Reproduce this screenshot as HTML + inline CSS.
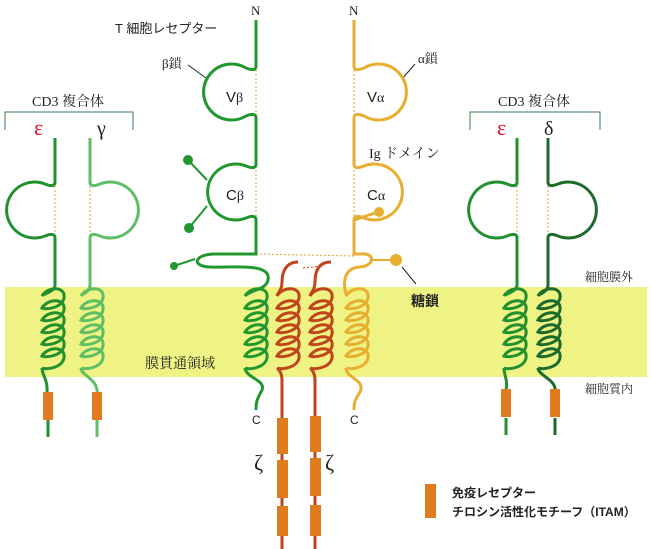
<!DOCTYPE html>
<html><head><meta charset="utf-8"><style>
body{margin:0;background:#fff}
svg{display:block}
text{font-family:"Liberation Serif","Noto Serif CJK JP",serif;font-size:13px;fill:#222}
.j{font-family:"Liberation Sans","Noto Sans CJK JP",sans-serif}
</style></head><body>
<svg width="652" height="549" viewBox="0 0 652 549" xmlns="http://www.w3.org/2000/svg">
<defs>
<path id="hx" d="M0,0 c6,-10 24,-10 22,2 c-2,10 -18,12 -22,10 c6,-10 24,-10 22,2 c-2,10 -18,12 -22,10 c6,-10 24,-10 22,2 c-2,10 -18,12 -22,10 c6,-10 24,-10 22,2 c-2,10 -18,12 -22,10 c6,-10 24,-10 22,2 c-2,10 -18,12 -22,10 c6,-10 24,-10 22,2 c-2,10 -18,12 -22,10" fill="none"/>
</defs>
<rect x="5" y="287" width="642" height="90" fill="#eef383"/>

<text class="j" x="115" y="33" style="font-size:13px">T 細胞レセプター</text>
<text x="251" y="15">N</text><text x="349" y="15">N</text>
<text x="162" y="68">β鎖</text>
<text x="418" y="63">α鎖</text>
<line x1="188" y1="65" x2="206" y2="78" stroke="#222"/>
<line x1="402" y1="79" x2="415" y2="64" stroke="#222"/>
<text class="j" x="226" y="102" style="font-size:15px">V<tspan style="font-family:'Liberation Serif',serif;font-size:14px">β</tspan></text>
<text class="j" x="367" y="102" style="font-size:15px">V<tspan style="font-family:'Liberation Serif',serif;font-size:14px">α</tspan></text>
<text class="j" x="226" y="200" style="font-size:15px">C<tspan style="font-family:'Liberation Serif',serif;font-size:14px">β</tspan></text>
<text class="j" x="367" y="200" style="font-size:15px">C<tspan style="font-family:'Liberation Serif',serif;font-size:14px">α</tspan></text>
<text x="369" y="158" style="font-size:14px">Ig ドメイン</text>
<text class="j" x="411" y="306" style="font-size:14px;font-weight:bold">糖鎖</text>
<line x1="402" y1="267" x2="416" y2="284" stroke="#222"/>
<text x="145" y="368" style="font-size:14px">膜貫通領域</text>
<text x="585" y="281" style="font-size:12px">細胞膜外</text>
<text x="585" y="393" style="font-size:12px">細胞質内</text>
<text class="j" x="252" y="424" style="font-size:12px">C</text><text class="j" x="350" y="424" style="font-size:12px">C</text>
<text x="254" y="470" style="font-size:22px">ζ</text><text x="325" y="470" style="font-size:22px">ζ</text>
<text x="32" y="106" style="font-size:14px">CD3 複合体</text>
<text x="498" y="106" style="font-size:14px">CD3 複合体</text>
<path d="M5,130 V112 H133 V130 M470,130 V112 H600 V130" fill="none" stroke="#3a7a4a"/>
<text x="34" y="135" style="font-size:22px;fill:#e0102a">ε</text>
<text x="97" y="135" style="font-size:20px">γ</text>
<text x="497" y="135" style="font-size:22px;fill:#e0102a">ε</text>
<text x="544" y="135" style="font-size:20px">δ</text>
<rect x="425" y="484" width="11" height="34" fill="#e07c20"/>
<text class="j" x="452" y="497" style="font-size:12px;font-weight:bold">免疫レセプター</text>
<text class="j" x="452" y="516" style="font-size:12px;font-weight:bold">チロシン活性化モチーフ（ITAM）</text>

<g fill="none" stroke-width="3">
<g stroke="#e8a030" stroke-width="1" stroke-dasharray="2,2">
<line x1="256" y1="70" x2="256" y2="118"/><line x1="256" y1="166" x2="256" y2="220"/>
<line x1="354" y1="70" x2="354" y2="118"/><line x1="354" y1="166" x2="354" y2="220"/>
<line x1="256" y1="254" x2="354" y2="256"/>
<line x1="55" y1="186" x2="55" y2="236"/><line x1="90" y1="186" x2="90" y2="236"/>
<line x1="517" y1="186" x2="517" y2="236"/><line x1="548" y1="186" x2="548" y2="236"/>
</g>
<line x1="303" y1="268" x2="322" y2="266" stroke="#c0441c" stroke-width="1" stroke-dasharray="2,2"/>

<g stroke="#22972f">
<path d="M256,20 V66 Q256,72 246,68 A28,28 0 1 0 246,116 Q256,112 256,118 V164 Q256,170 246,166 A28,28 0 1 0 246,218 Q256,214 256,220 V254 H215 C195,254 190,266 210,267 C230,268 272,262 268,280 C266,290 250,290 245,296"/>
<use href="#hx" x="245" y="296"/>
<path d="M245,368 C246,378 266,380 262,390 C258,398 256,400 256,410"/>
<path d="M207,206 L189,228 M207,180 L188,160 M195,259 L174,266" stroke-width="2"/>
</g>
<g fill="#22972f"><circle cx="188" cy="160" r="5"/><circle cx="189" cy="228" r="5"/><circle cx="174" cy="266" r="4"/></g>

<g stroke="#e8ae30">
<path d="M354,20 V66 Q354,72 364,68 A28,28 0 1 1 364,116 Q354,112 354,118 V164 Q354,170 364,166 A28,28 0 1 1 364,218 Q354,214 354,220 L378,212 M354,220 V254 H364 C375,254 374,266 360,267 C340,268 344,290 347,296"/>
<use href="#hx" x="346" y="296"/>
<path d="M346,368 C346,378 366,380 360,392 C355,400 354,402 354,410"/>
<path d="M372,260 H396" stroke-width="2"/>
</g>
<g fill="#e8ae30"><circle cx="379" cy="212" r="5"/><circle cx="396" cy="260" r="6"/></g>

<g stroke="#c0441c">
<path d="M298,262 C286,262 282,272 282,282 C282,290 278,292 277,296"/>
<use href="#hx" x="277" y="296"/>
<path d="M277,368 Q282,372 282,380 V549"/>
<path d="M331,262 C318,262 315,272 315,282 C315,290 311,292 310,296"/>
<use href="#hx" x="310" y="296"/>
<path d="M310,368 Q315,372 315,380 V549"/>
</g>
<g fill="#e07c20">
<rect x="277" y="418" width="11" height="36"/><rect x="277" y="460" width="11" height="38"/><rect x="277" y="506" width="11" height="30"/>
<rect x="310" y="416" width="11" height="36"/><rect x="310" y="458" width="11" height="38"/><rect x="310" y="505" width="11" height="31"/>
</g>

<g stroke="#22902f">
<path d="M55,138 V182 Q55,188 45,184 A28,28 0 1 0 45,236 Q55,232 55,238 V285 C55,292 43,294 42,296"/>
<use href="#hx" x="42" y="296"/>
<path d="M42,368 C42,375 48,380 47,392 M48,420 V437"/>
</g>
<g stroke="#60bf66">
<path d="M90,138 V182 Q90,188 100,184 A28,28 0 1 1 100,236 Q90,232 90,238 V285 C90,292 82,294 81,296"/>
<use href="#hx" x="81" y="296"/>
<path d="M81,368 C81,375 98,380 97,392 M97,420 V437"/>
</g>
<g stroke="#22902f">
<path d="M517,138 V182 Q517,188 507,184 A28,28 0 1 0 507,236 Q517,232 517,238 V285 C517,292 505,294 504,296"/>
<use href="#hx" x="504" y="296"/>
<path d="M504,368 C504,375 508,380 506,390 M506,418 V435"/>
</g>
<g stroke="#1d6b2c">
<path d="M548,138 V182 Q548,188 558,184 A28,28 0 1 1 558,236 Q548,232 548,238 V285 C548,292 539,294 538,296"/>
<use href="#hx" x="538" y="296"/>
<path d="M538,368 C538,375 556,380 555,390 M555,418 V435"/>
</g>
</g>
<g fill="#e07c20">
<rect x="43" y="392" width="10" height="28"/><rect x="92" y="392" width="10" height="28"/>
<rect x="501" y="389" width="10" height="28"/><rect x="550" y="389" width="10" height="28"/>
</g>
</svg>
</body></html>
